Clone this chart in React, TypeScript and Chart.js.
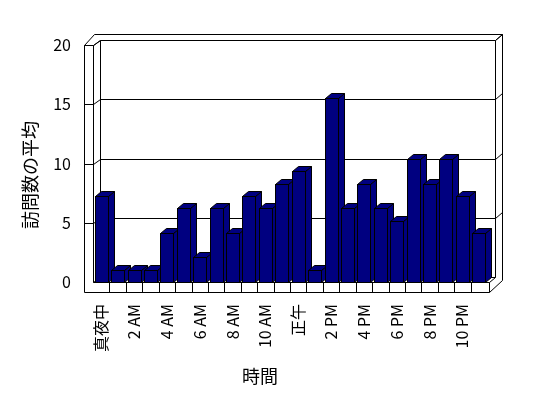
import React, { useEffect, useRef } from 'react';
import { Chart, registerables } from 'chart.js';

Chart.register(...registerables);

const hours = [
  '真夜中', '1 AM', '2 AM', '3 AM', '4 AM', '5 AM', '6 AM', '7 AM', '8 AM', '9 AM', '10 AM', '11 AM',
  '正午', '1 PM', '2 PM', '3 PM', '4 PM', '5 PM', '6 PM', '7 PM', '8 PM', '9 PM', '10 PM', '11 PM',
];
const visits = [7, 1, 1, 1, 4, 6, 2, 6, 4, 7, 6, 8, 9, 1, 15, 6, 8, 6, 5, 10, 8, 10, 7, 4];
const gridValues = [5, 10, 15, 20];
const yTitle = '訪問数の平均';
const xTitle = '時間';

const FONT = '"Noto Sans CJK JP", "DejaVu Sans", sans-serif';
const NAVY = '#000080';

const p = (v: number) => Math.round(v) + 0.5;

function line(ctx: CanvasRenderingContext2D, x1: number, y1: number, x2: number, y2: number) {
  ctx.beginPath();
  ctx.moveTo(p(x1), p(y1));
  ctx.lineTo(p(x2), p(y2));
  ctx.stroke();
}

const box3d = {
  id: 'box3d',
  beforeDatasetsDraw(chart: any) {
    const ctx: CanvasRenderingContext2D = chart.ctx;
    const { left, right, top, bottom } = chart.chartArea;
    const y = chart.scales.y;
    const OL = left - 9, IL = left, BL = left + 7, BR = right + 8, OR = right + 15;
    ctx.save();
    ctx.strokeStyle = '#000';
    ctx.lineWidth = 1;
    // left wall
    line(ctx, OL, top, OL, bottom + 10);
    line(ctx, IL, top, IL, bottom);
    line(ctx, OL, top, IL, top);
    line(ctx, OL, top, OL + 10, top - 11);
    line(ctx, OL + 10, top - 11, OR, top - 11);
    line(ctx, IL, top, BL, top - 5);
    // back wall
    line(ctx, BL, top - 5, BL, bottom - 5);
    line(ctx, BR, top - 5, OR, top - 11);
    line(ctx, OR, top - 11, OR, bottom - 2);
    line(ctx, BR, top - 5, BR, bottom - 5);
    line(ctx, BL, bottom - 5, BR, bottom - 5);
    line(ctx, IL, bottom, BL, bottom - 5);
    // gridlines
    gridValues.forEach((v) => {
      const yf = y.getPixelForValue(v);
      line(ctx, OL, yf, IL, yf);
      line(ctx, IL, yf, BL, yf - 5);
      line(ctx, BL, yf - 5, BR, yf - 5);
      line(ctx, BR, yf - 5, OR, yf - 11);
    });
    ctx.restore();
  },
  afterDatasetsDraw(chart: any) {
    const ctx: CanvasRenderingContext2D = chart.ctx;
    const { left, right, bottom } = chart.chartArea;
    const OL = left - 9, IL = left, BR = right + 8, OR = right + 15, FR = right + 2;
    const meta = chart.getDatasetMeta(0);
    const dx = 6, dy = 5;
    ctx.save();
    ctx.strokeStyle = '#000';
    ctx.lineWidth = 1;
    ctx.fillStyle = NAVY;
    meta.data.forEach((el: any) => {
      const w = el.width;
      const x0 = p(el.x - w / 2);
      const x1 = p(el.x + w / 2);
      const t = p(el.y);
      const b = p(el.base);
      ctx.beginPath();
      ctx.moveTo(x1, t);
      ctx.lineTo(x1 + dx, t - dy);
      ctx.lineTo(x1 + dx, b - dy);
      ctx.lineTo(x1, b);
      ctx.closePath();
      ctx.fill();
      ctx.stroke();
      ctx.beginPath();
      ctx.moveTo(x0, t);
      ctx.lineTo(x0 + dx, t - dy);
      ctx.lineTo(x1 + dx, t - dy);
      ctx.lineTo(x1, t);
      ctx.closePath();
      ctx.fill();
      ctx.stroke();
      ctx.fillRect(x0, t, x1 - x0, b - t);
      ctx.strokeRect(x0, t, x1 - x0, b - t);
    });
    ctx.fillStyle = '#fff';
    ctx.fillRect(IL + 1, bottom + 1, FR - IL - 1, 9);
    line(ctx, IL, bottom, FR, bottom);
    line(ctx, OL, bottom + 10, FR, bottom + 10);
    line(ctx, FR, bottom, FR, bottom + 10);
    line(ctx, FR, bottom, BR, bottom - 5);
    line(ctx, FR, bottom + 10, OR, bottom - 2);
    const n = visits.length;
    const step = (right - left) / n;
    for (let k = 1; k < n; k++) {
      const x = left + k * step;
      line(ctx, x, bottom, x, bottom + 10);
    }
    ctx.restore();
  },
  afterDraw(chart: any) {
    const ctx: CanvasRenderingContext2D = chart.ctx;
    const { bottom } = chart.chartArea;
    ctx.save();
    ctx.fillStyle = '#000';
    ctx.font = `18px ${FONT}`;
    ctx.textAlign = 'center';
    ctx.textBaseline = 'middle';
    ctx.fillText(xTitle, 260, bottom + 94);
    ctx.translate(30, 175);
    ctx.rotate(-Math.PI / 2);
    ctx.fillText(yTitle, 0, 0);
    ctx.restore();
  },
};

export default function App() {
  const ref = useRef<HTMLCanvasElement>(null);
  useEffect(() => {
    if (!ref.current) return;
    Chart.defaults.color = '#000';
    const chart = new Chart(ref.current, {
      type: 'bar',
      data: {
        labels: hours,
        datasets: [
          {
            data: visits,
            yAxisID: 'yBar',
            backgroundColor: 'rgba(0,0,0,0)',
            borderWidth: 0,
            barThickness: 13,
          },
        ],
      },
      plugins: [box3d],
      options: {
        animation: false,
        responsive: false,
        devicePixelRatio: 1,
        layout: { padding: { top: 45, right: 61, bottom: 0, left: 0 } },
        plugins: { legend: { display: false }, tooltip: { enabled: false } },
        scales: {
          x: {
            grid: { display: false, drawTicks: false },
            border: { display: false },
            ticks: {
              autoSkip: false,
              minRotation: 90,
              maxRotation: 90,
              padding: 22,
              font: { family: FONT, size: 16 },
              color: '#000',
              callback: (_v: any, i: number) => (i % 2 === 0 ? hours[i] : ''),
            },
            title: { display: false, text: xTitle },
            afterFit: (s: any) => { s.height = 116; },
          },
          y: {
            position: 'left',
            min: 0,
            max: 20,
            grid: { display: false, drawTicks: false },
            border: { display: false },
            ticks: { stepSize: 5, padding: 22, font: { family: FONT, size: 16 }, color: '#000' },
            title: { display: false, text: yTitle },
            afterFit: (s: any) => { s.width = 93; },
          },
          yBar: {
            display: false,
            min: 0,
            max: 19.27,
          },
        },
      },
    });
    return () => chart.destroy();
  }, []);
  return (
    <div style={{ position: 'absolute', left: 0, top: 0, width: 548, height: 398, background: '#fff' }}>
      <canvas ref={ref} width={548} height={398} style={{ width: 548, height: 398 }} />
    </div>
  );
}
